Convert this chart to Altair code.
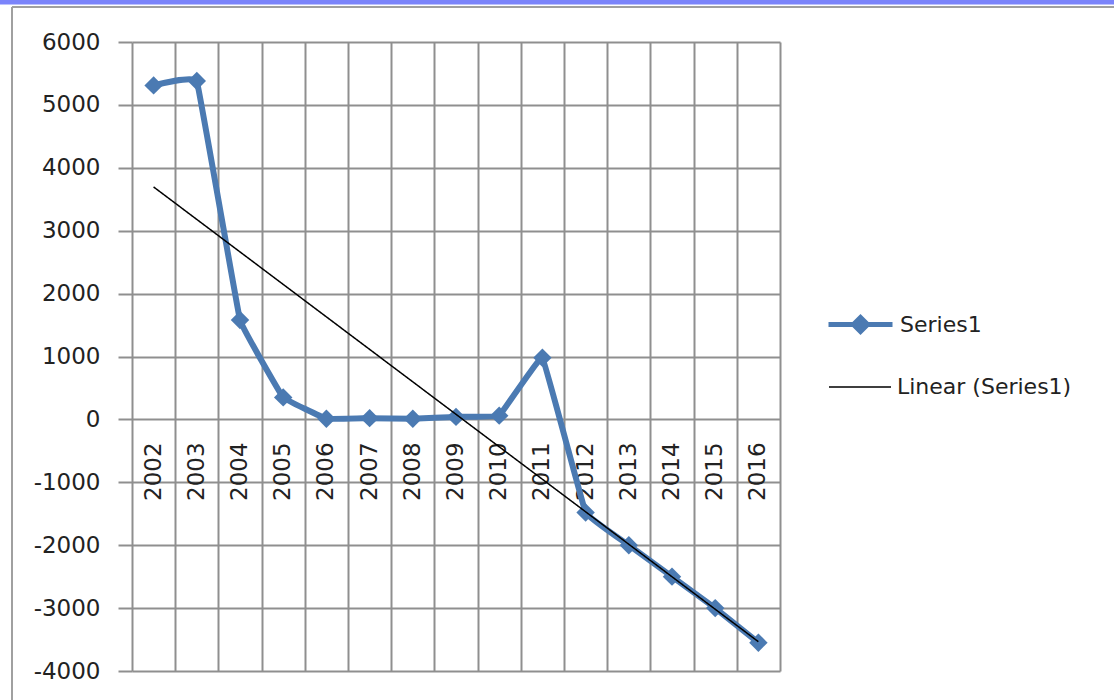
import altair as alt
import pandas as pd

years = list(range(2002, 2017))
values = [5310, 5380, 1580, 350, 10, 20, 10, 40, 60, 980, -1480, -2000, -2500, -3000, -3550]
series_name = "Series1"
trend_name = "Linear (Series1)"
y_ticks = list(range(-4000, 7000, 1000))

df = pd.DataFrame({"year": years, "value": values, "series": series_name})
one = pd.DataFrame({"k": [0]})

BLUE = "#4b7ab2"
GRID = "#8f8f8f"
FONT = "DejaVu Sans"
TXT = "#222222"

grid_positions = [y - 0.5 for y in years] + [years[-1] + 0.5]

x_scale = alt.Scale(domain=[years[0] - 0.5, years[-1] + 0.5], nice=False, zero=False)
y_scale = alt.Scale(domain=[y_ticks[0], y_ticks[-1]], nice=False)

x_enc = alt.X("year:Q", scale=x_scale,
              axis=alt.Axis(values=grid_positions, grid=True, labels=False, ticks=False,
                            domain=False, title=None, gridColor=GRID, gridWidth=2, gridOpacity=1))
y_enc = alt.Y("value:Q", scale=y_scale,
              axis=alt.Axis(values=y_ticks, title=None, grid=True, gridColor=GRID, gridWidth=2,
                            gridOpacity=1, tickSize=14, tickColor=GRID, tickWidth=2, labelPadding=18,
                            labelFontSize=23, labelFont=FONT, labelColor=TXT, domain=False,
                            labelExpr="datum.value + ''"))

base = alt.Chart(df)

year_labels = base.mark_text(angle=270, align="right", baseline="middle", dx=-23,
                             fontSize=23, font=FONT, color=TXT).encode(
    x=x_enc, y=alt.datum(0), text="year:N")

line = base.mark_line(strokeWidth=6, interpolate="cardinal", tension=0.85).encode(
    x=x_enc, y=y_enc,
    color=alt.Color("series:N", scale=alt.Scale(domain=[series_name], range=[BLUE]),
                    legend=alt.Legend(title=None, orient="none", legendX=694, legendY=248,
                                      symbolType="M-1,0H1M0,-0.22L0.22,0L0,0.22L-0.22,0Z",
                                      symbolSize=4096, symbolStrokeWidth=5, symbolFillColor=BLUE,
                                      labelFont=FONT, labelFontSize=22, labelColor=TXT,
                                      labelOffset=5, labelLimit=400)))

points = base.mark_point(shape="diamond", filled=True, size=340, opacity=1, color=BLUE).encode(
    x="year:Q", y="value:Q")

trend = base.transform_regression("year", "value", method="linear").transform_calculate(
    trend=f'"{trend_name}"').mark_line(color="black", strokeWidth=1.5).encode(
    x="year:Q", y="value:Q",
    strokeDash=alt.StrokeDash("trend:N", scale=alt.Scale(domain=[trend_name], range=[[1, 0]]),
                              legend=alt.Legend(title=None, orient="none", legendX=696, legendY=313,
                                                symbolType="M-1,0H1", symbolSize=3844,
                                                symbolStrokeColor="black", symbolStrokeWidth=1.5,
                                                labelFont=FONT, labelFontSize=22, labelColor=TXT,
                                                labelOffset=5, labelLimit=400)))

frame_blue = alt.Chart(one).mark_rule(color="#7b84fb", strokeWidth=5).encode(
    x=alt.value(-132), x2=alt.value(982), y=alt.value(-40))
frame_top = alt.Chart(one).mark_rule(color="#a0a0a0", strokeWidth=2).encode(
    x=alt.value(-120), x2=alt.value(982), y=alt.value(-35))
frame_left = alt.Chart(one).mark_rule(color="#a0a0a0", strokeWidth=2).encode(
    x=alt.value(-120), y=alt.value(-35), y2=alt.value(660))

chart = alt.layer(year_labels, line, points, trend, frame_blue, frame_top, frame_left).properties(
    width=648, height=629,
    padding={"left": 132, "top": 42, "right": 334, "bottom": 29},
    autosize=alt.AutoSizeParams(type="none"),
    background="white",
).configure_view(stroke=None)

chart.save("out.html", embed_options={"renderer": "svg", "actions": False})
